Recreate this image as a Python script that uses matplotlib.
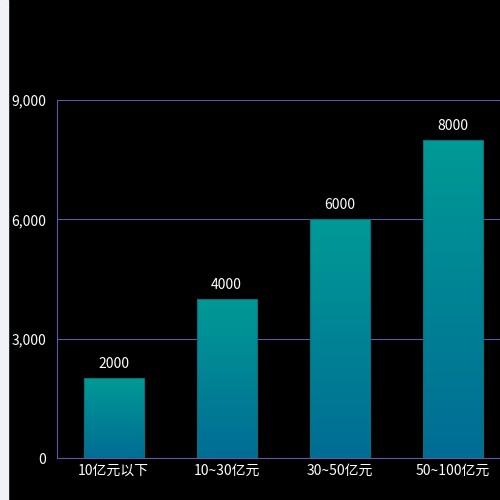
import matplotlib
matplotlib.use("Agg")
import matplotlib.pyplot as plt
import numpy as np
from matplotlib.patches import Rectangle

plt.rcParams['font.family'] = ['Noto Sans CJK SC', 'DejaVu Sans']

categories = ['10亿元以下', '10~30亿元', '30~50亿元', '50~100亿元']
values = [2000, 4000, 6000, 8000]
yticks = [0, 3000, 6000, 9000]
ytick_labels = ['0', '3,000', '6,000', '9,000']

fig = plt.figure(figsize=(5, 5), dpi=100, facecolor='black')
fig.patches.append(Rectangle((0, 0), 8/500, 1, transform=fig.transFigure, color='#f0f2f8', zorder=0))
ax = fig.add_axes([57/500, 42/500, 452/500, 358/500], facecolor='black')
x = np.arange(len(categories))
bars = ax.bar(x, values, width=60/113, color='none', edgecolor='#0a6f7a', linewidth=0.8, zorder=3)
grad = np.linspace(0, 1, 256).reshape(-1, 1)
from matplotlib.colors import LinearSegmentedColormap
cmap = LinearSegmentedColormap.from_list('g', ['#006d94', '#009a96'])
for b, v in zip(bars, values):
    x0 = b.get_x(); w = b.get_width()
    im = ax.imshow(grad, extent=[x0, x0 + w, 0, v], origin='lower', cmap=cmap, aspect='auto', zorder=2)
    im.set_clip_path(b)
    ax.text(b.get_x() + w / 2, v + 180, str(v), ha='center', va='bottom', color='white', fontsize=10)
ax.set_xlim(-0.5, 3.5)
ax.set_ylim(0, 9000)
ax.set_yticks(yticks)
ax.set_yticklabels(ytick_labels)
ax.set_xticks(x)
ax.set_xticklabels(categories)
ax.tick_params(colors='white', labelsize=10, length=0)
ax.tick_params(axis='y', pad=8)
ax.tick_params(axis='x', pad=4)
ax.grid(axis='y', color='#5a5aaa', linewidth=0.8, zorder=1)
for s in ['top', 'right']:
    ax.spines[s].set_visible(False)
for s in ['left', 'bottom']:
    ax.spines[s].set_color('#5a5aaa')
fig.savefig('out.png', dpi=100, facecolor='black')
